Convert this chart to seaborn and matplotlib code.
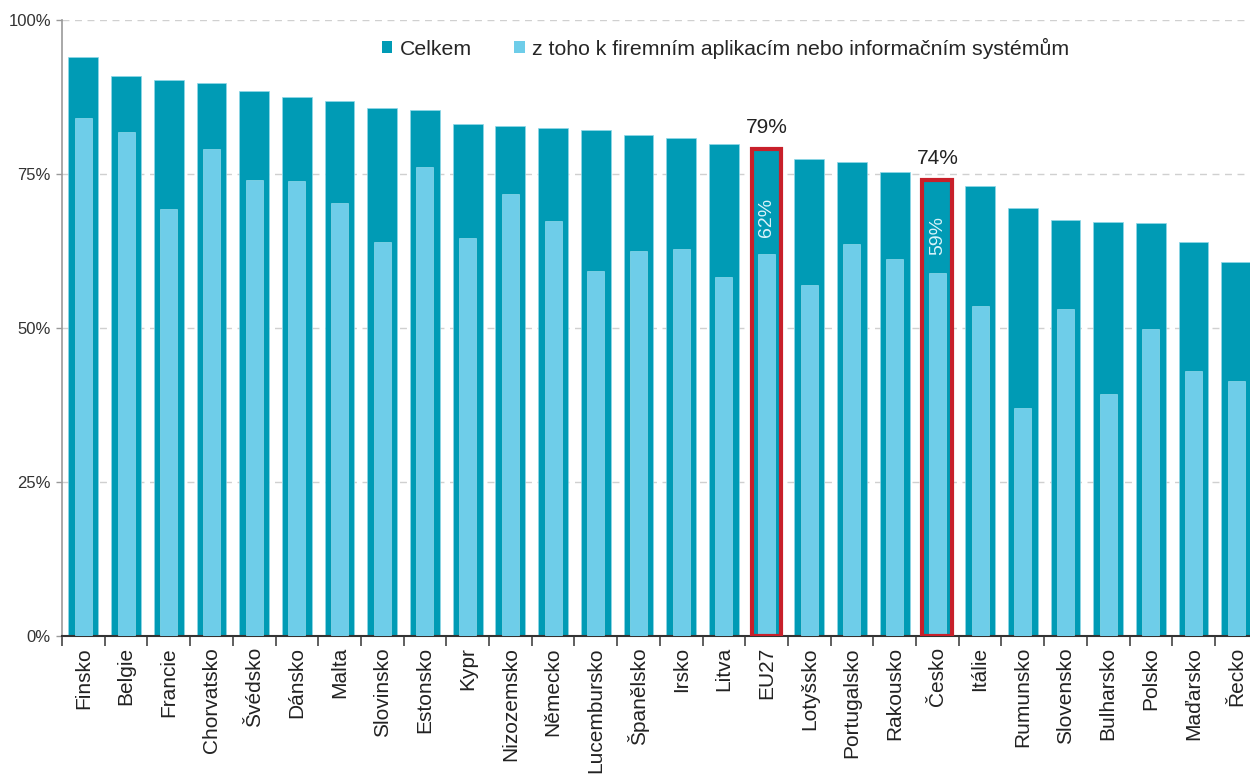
import matplotlib
matplotlib.use("Agg")
import matplotlib.pyplot as plt
import seaborn as sns
import pandas as pd
from matplotlib.ticker import FixedLocator
from matplotlib.patches import Patch

countries = ["Finsko", "Belgie", "Francie", "Chorvatsko", "Švédsko", "Dánsko", "Malta",
             "Slovinsko", "Estonsko", "Kypr", "Nizozemsko", "Německo", "Lucembursko",
             "Španělsko", "Irsko", "Litva", "EU27", "Lotyšsko", "Portugalsko", "Rakousko",
             "Česko", "Itálie", "Rumunsko", "Slovensko", "Bulharsko", "Polsko", "Maďarsko", "Řecko"]
total = [94.0, 90.9, 90.3, 89.8, 88.5, 87.5, 86.9, 85.7, 85.4, 83.1, 82.8, 82.5, 82.1,
         81.3, 80.8, 79.9, 79.0, 77.4, 77.0, 75.3, 74.0, 73.1, 69.5, 67.5, 67.2, 67.0, 64.0, 60.7]
apps = [84.1, 81.8, 69.3, 79.1, 74.0, 73.9, 70.3, 64.0, 76.1, 64.6, 71.8, 67.4, 59.3,
        62.5, 62.8, 58.3, 62.0, 57.0, 63.6, 61.2, 59.0, 53.6, 37.0, 53.1, 39.3, 49.8, 43.0, 41.4]
highlight = ["EU27", "Česko"]
label_total = "Celkem"
label_apps = "z toho k firemním aplikacím nebo informačním systémům"
yticks = [0, 25, 50, 75, 100]
ytick_labels = ["0%", "25%", "50%", "75%", "100%"]

DARK = "#009BB5"
LIGHT = "#6ECDE9"

sns.set_theme(style="white")
plt.rcParams["font.family"] = ["Liberation Sans", "DejaVu Sans"]

df = pd.DataFrame({"country": countries, "total": total, "apps": apps})

fig = plt.figure(figsize=(12.5, 7.76), dpi=100)
step = 42.7
ax = fig.add_axes([62 / 1250, 1 - 636 / 776, 28 * step / 1250, (636 - 20) / 776])

sns.barplot(data=df, x="country", y="total", color=DARK, width=0.70, ax=ax,
            edgecolor="#8fd8e8", linewidth=0.5, saturation=1, zorder=2)
n = len(countries)
sns.barplot(data=df, x="country", y="apps", color=LIGHT, width=0.40, ax=ax,
            edgecolor="#a8e2f2", linewidth=0.4, saturation=1, zorder=3)

dark_patches = ax.patches[:n]
for name in highlight:
    i = countries.index(name)
    p = dark_patches[i]
    p.set_edgecolor("#C8202A")
    p.set_linewidth(3)
    p.set_zorder(4)
    p.set_fill(False)
    ax.bar(i, total[i], width=0.70, color=DARK, zorder=1.5)
    ax.text(i, total[i] + 2.0, f"{total[i]:.0f}%", ha="center", va="bottom",
            fontsize=15, color="#222222")
    ax.text(i, apps[i] + 6.0, f"{apps[i]:.0f}%", ha="center", va="center",
            rotation=90, fontsize=14, color="#d8f3fa", zorder=5)

ax.set_ylim(0, 100)
ax.set_xlim(-0.5, n - 0.5)
ax.set_yticks(yticks)
ax.set_yticklabels(ytick_labels, fontsize=12, color="#333333")
ax.yaxis.grid(True, linestyle=(0, (5, 4)), color="#d0d0d0", linewidth=1, zorder=0)
ax.set_axisbelow(True)

ax.set_xticks(range(n))
ax.set_xticklabels(countries, rotation=90, fontsize=15, color="#222222")
ax.xaxis.set_minor_locator(FixedLocator([k - 0.5 for k in range(n + 1)]))
ax.tick_params(axis="x", which="major", length=0, pad=8)
ax.tick_params(axis="x", which="minor", length=7, width=1.2, color="#444444", bottom=True)
ax.tick_params(axis="y", length=4, width=1, color="#999999", left=True, pad=4)
ax.set_xlabel("")
ax.set_ylabel("")

for s in ["top", "right"]:
    ax.spines[s].set_visible(False)
ax.spines["left"].set_color("#999999")
ax.spines["left"].set_linewidth(1.2)
ax.spines["bottom"].set_color("#333333")
ax.spines["bottom"].set_linewidth(1.5)

handles = [Patch(facecolor=DARK, edgecolor="none"), Patch(facecolor=LIGHT, edgecolor="none")]
ax.legend(handles, [label_total, label_apps], loc="upper center",
          bbox_to_anchor=(0.555, 1.002), ncol=2, frameon=False, fontsize=15.3,
          handlelength=0.5, handleheight=0.5, handletextpad=0.35, columnspacing=2.0)

fig.savefig("out.png", dpi=100)
